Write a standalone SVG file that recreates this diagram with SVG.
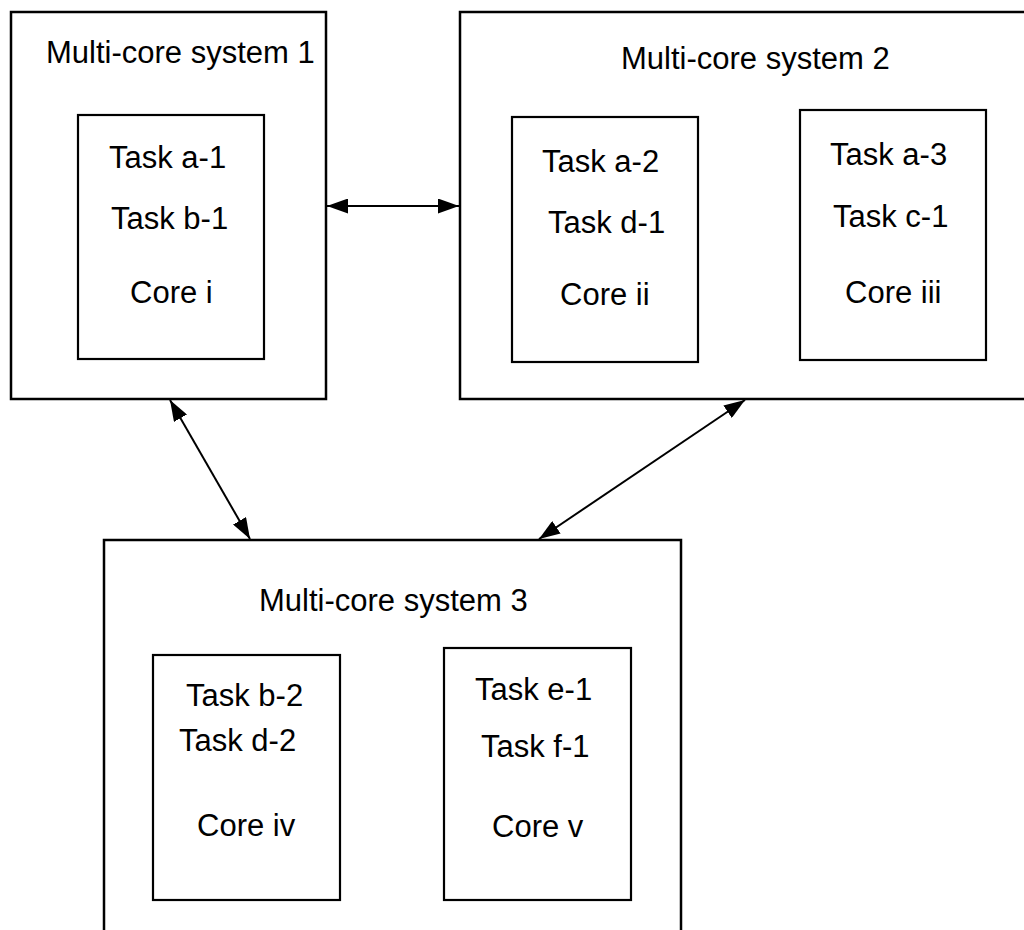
<svg xmlns="http://www.w3.org/2000/svg" width="1024" height="930" viewBox="0 0 1024 930">
<style>
.box{fill:none;stroke:#000;stroke-width:2.5}
.core{fill:none;stroke:#000;stroke-width:2.2}
text{font-family:"Liberation Sans",Arial,sans-serif;font-size:31px;fill:#000}
.conn{stroke:#000;stroke-width:2;fill:none;marker-start:url(#ah);marker-end:url(#ah)}
</style>
<defs>
<marker id="ah" viewBox="0 0 21 15" refX="21" refY="7.5" markerWidth="21" markerHeight="15" markerUnits="userSpaceOnUse" orient="auto-start-reverse">
<path d="M0,0 L21,7.5 L0,15 z" fill="#000"/>
</marker>
</defs>
<rect width="1024" height="930" fill="#fff"/>
<g id="system1">
<rect class="box" x="11" y="12" width="315" height="387"/>
<text x="46" y="63">Multi-core system 1</text>
</g>
<g id="core-i">
<rect class="core" x="78" y="115" width="186" height="244"/>
<text x="109" y="168">Task a-1</text>
<text x="111" y="229">Task b-1</text>
<text x="130" y="303">Core i</text>
</g>
<g id="system2">
<rect class="box" x="460" y="12" width="580" height="387"/>
<text x="621" y="69">Multi-core system 2</text>
</g>
<g id="core-ii">
<rect class="core" x="512" y="117" width="186" height="245"/>
<text x="542" y="172">Task a-2</text>
<text x="548" y="233">Task d-1</text>
<text x="560" y="305">Core ii</text>
</g>
<g id="core-iii">
<rect class="core" x="800" y="110" width="186" height="250"/>
<text x="830" y="165">Task a-3</text>
<text x="833" y="227">Task c-1</text>
<text x="845" y="303">Core iii</text>
</g>
<g id="system3">
<rect class="box" x="104" y="540" width="577" height="420"/>
<text x="259" y="611">Multi-core system 3</text>
</g>
<g id="core-iv">
<rect class="core" x="153" y="655" width="187" height="245"/>
<text x="186" y="706">Task b-2</text>
<text x="179" y="751">Task d-2</text>
<text x="197" y="836">Core iv</text>
</g>
<g id="core-v">
<rect class="core" x="444" y="648" width="187" height="252"/>
<text x="475" y="700">Task e-1</text>
<text x="481" y="757">Task f-1</text>
<text x="492" y="837">Core v</text>
</g>
<g id="connectors">
<line class="conn" x1="327" y1="206" x2="459" y2="206"/>
<line class="conn" x1="170" y1="400" x2="250" y2="539"/>
<line class="conn" x1="745" y1="400" x2="539" y2="539"/>
</g>
</svg>
